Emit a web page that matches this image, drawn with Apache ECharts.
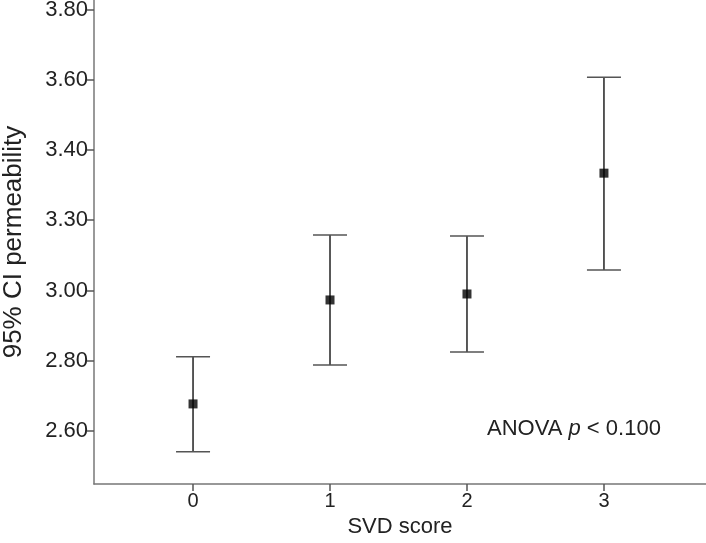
<!DOCTYPE html>
<html>
<head>
<meta charset="utf-8">
<script src="https://cdn.jsdelivr.net/npm/echarts@6/dist/echarts.min.js"></script>
<style>html,body{margin:0;padding:0;background:#fff}#c{width:706px;height:543px}</style>
</head>
<body>
<div id="c"></div>
<script>
const categories = [0, 1, 2, 3];
const means = [2.677, 2.973, 2.990, 3.334];
const lower = [2.541, 2.788, 2.825, 3.058];
const upper = [2.811, 3.158, 3.155, 3.607];
const yTickValues = [2.6, 2.8, 3.0, 3.2, 3.4, 3.6, 3.8];
const yTickLabels = ["2.60", "2.80", "3.00", "3.30", "3.40", "3.60", "3.80"];
const xTickLabels = ["0", "1", "2", "3"];

const font = "Liberation Sans, Arial, sans-serif";
const chart = echarts.init(document.getElementById('c'), null, {renderer: 'canvas'});
const errData = categories.map((c, i) => [c, lower[i], upper[i]]);
const meanData = categories.map((c, i) => [c, means[i]]);

chart.setOption({
  animation: false,
  backgroundColor: '#fff',
  grid: {left: 94, right: 0, top: 0, bottom: 59, containLabel: false, outerBoundsMode: 'none'},
  xAxis: {
    type: 'value', min: -0.723, max: 3.745,
    name: 'SVD score', nameLocation: 'middle', nameGap: 31,
    nameTextStyle: {color: '#222', fontSize: 22, fontFamily: font},
    axisLine: {show: true, onZero: false, lineStyle: {color: '#777', width: 1.5}},
    axisTick: {show: true, customValues: categories, length: 7, lineStyle: {color: '#555', width: 1.5}},
    axisLabel: {customValues: categories, formatter: v => xTickLabels[categories.indexOf(v)] ?? '', color: '#222', fontSize: 20, fontFamily: font, margin: 7},
    splitLine: {show: false}
  },
  yAxis: {
    type: 'value', min: 2.449, max: 3.827,
    name: '95% CI permeability', nameLocation: 'middle', nameGap: 67, nameRotate: 90,
    nameTextStyle: {color: '#222', fontSize: 26, fontFamily: font},
    axisLine: {show: true, onZero: false, lineStyle: {color: '#777', width: 1.5}},
    axisTick: {show: true, customValues: yTickValues, length: 7, lineStyle: {color: '#555', width: 1.5}},
    axisLabel: {customValues: yTickValues, formatter: v => {
      const i = yTickValues.findIndex(t => Math.abs(t - v) < 1e-6);
      return i >= 0 ? yTickLabels[i] : '';
    }, color: '#222', fontSize: 22, fontFamily: font, margin: 6},
    splitLine: {show: false}
  },
  series: [
    {
      type: 'custom',
      data: errData,
      renderItem: function (params, api) {
        const x = api.value(0);
        const lo = api.coord([x, api.value(1)]);
        const hi = api.coord([x, api.value(2)]);
        const hw = 17;
        return {
          type: 'group',
          children: [
            {type: 'line', shape: {x1: lo[0], y1: lo[1], x2: hi[0], y2: hi[1]}, style: {stroke: '#222', lineWidth: 1.5}},
            {type: 'line', shape: {x1: lo[0] - hw, y1: lo[1], x2: lo[0] + hw, y2: lo[1]}, style: {stroke: '#555', lineWidth: 1.5}},
            {type: 'line', shape: {x1: hi[0] - hw, y1: hi[1], x2: hi[0] + hw, y2: hi[1]}, style: {stroke: '#555', lineWidth: 1.5}}
          ]
        };
      },
      z: 2
    },
    {
      type: 'scatter', data: meanData, symbol: 'rect', symbolSize: 9,
      itemStyle: {color: '#000'}, z: 3
    }
  ],
  graphic: [{
    type: 'text', left: 487, top: 418,
    style: {
      rich: {n: {fontSize: 22, fontFamily: font, fill: '#222'}, i: {fontSize: 22, fontFamily: font, fontStyle: 'italic', fill: '#222'}},
      text: '{n|ANOVA }{i|p}{n| < 0.100}'
    }
  }]
});
</script>
</body>
</html>
